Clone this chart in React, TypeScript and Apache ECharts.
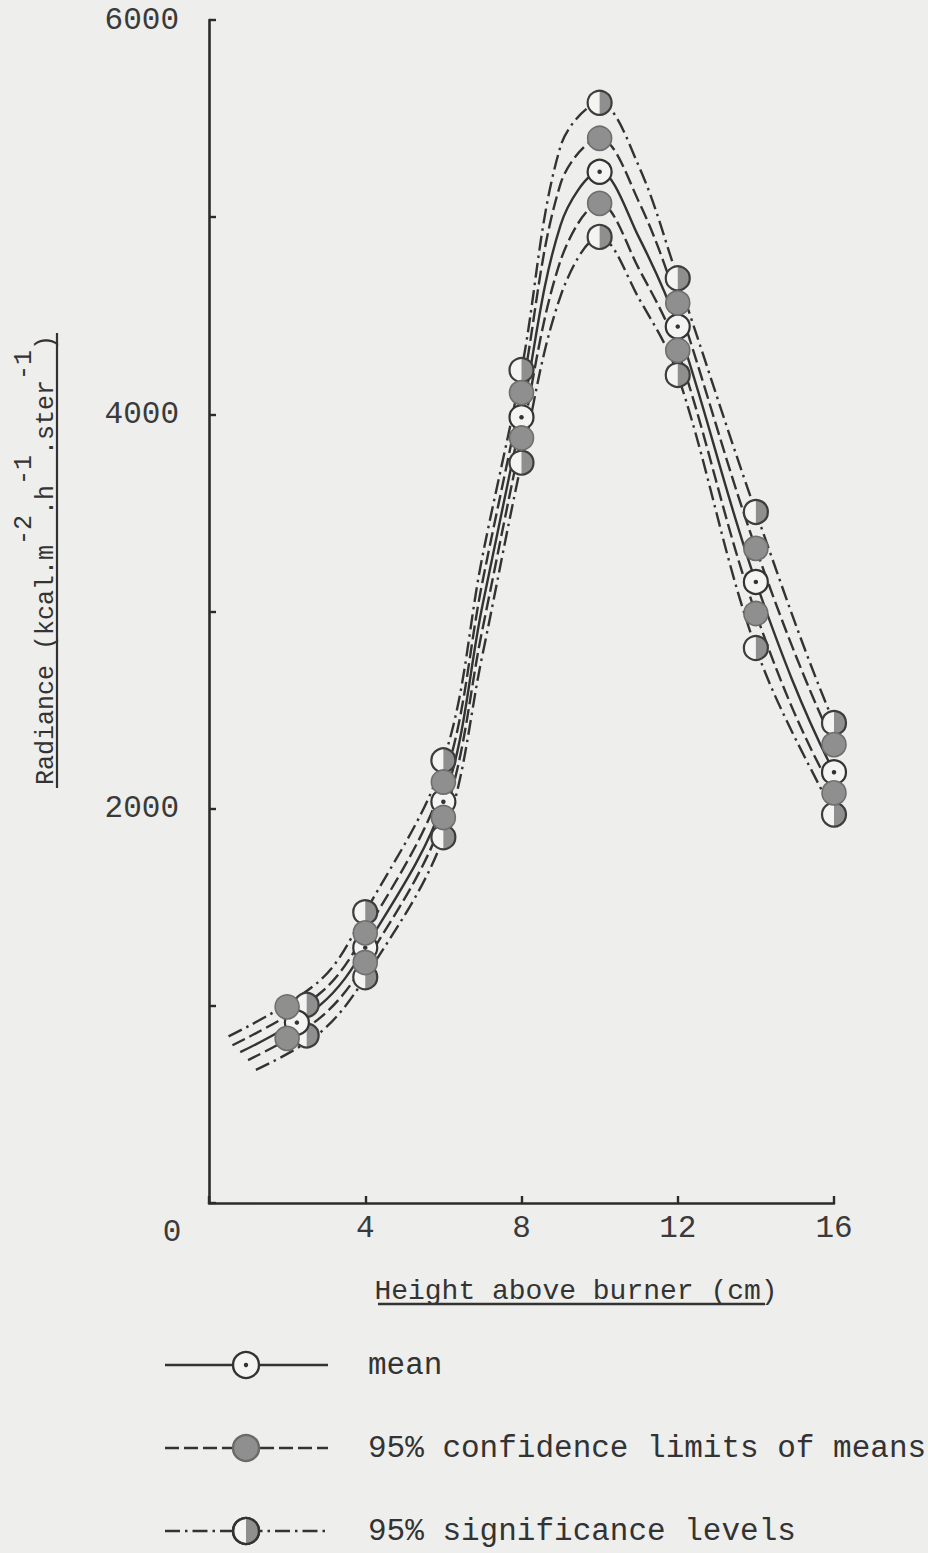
import React, { useEffect, useRef } from "react";
import * as echarts from "echarts";

// Heights above the burner (cm) at which the markers sit
const meanX = [2.25, 4, 6, 8, 10, 12, 14, 16];
const confX = [2, 4, 6, 8, 10, 12, 14, 16];
const sigX = [2.5, 4, 6, 8, 10, 12, 14, 16];

// Radiance values (kcal.m-2.h-1.ster-1) at the markers
const meanValues = [915, 1295, 2035, 3985, 5230, 4445, 3150, 2185];
const confUpper = [995, 1370, 2135, 4110, 5400, 4565, 3320, 2325];
const confLower = [835, 1220, 1955, 3880, 5070, 4325, 2990, 2080];
const sigUpper = [1005, 1475, 2245, 4225, 5580, 4690, 3505, 2435];
const sigLower = [850, 1145, 1855, 3755, 4900, 4200, 2815, 1970];

// Fitted curves, [height, radiance]
const meanCurve = [[0.8, 765], [2.85, 1005], [4, 1295], [6, 2035], [7, 3030], [8, 3985], [9, 4960], [10, 5230], [11, 4900], [12, 4445], [14, 3150], [16, 2185], [17.2, 1905]];
const confUpperCurve = [[0.6, 800], [2.85, 1065], [4, 1370], [6, 2135], [7, 3150], [8, 4110], [9, 5170], [10, 5400], [11, 5080], [12, 4565], [14, 3320], [16, 2325], [17.2, 1950]];
const confLowerCurve = [[1.0, 725], [2.85, 940], [4, 1220], [6, 1955], [7, 2910], [8, 3880], [9, 4780], [10, 5070], [11, 4740], [12, 4325], [14, 2990], [16, 2080], [17.2, 1860]];
const sigUpperCurve = [[0.5, 845], [2.85, 1130], [4, 1475], [6, 2245], [7, 3280], [8, 4225], [9, 5360], [10, 5580], [11, 5260], [12, 4690], [14, 3505], [16, 2435], [17.2, 1990]];
const sigLowerCurve = [[1.2, 675], [2.85, 865], [4, 1145], [6, 1855], [7, 2780], [8, 3755], [9, 4600], [10, 4900], [11, 4590], [12, 4200], [14, 2815], [16, 1970], [17.0, 1615]];

const xTicks = [0, 4, 8, 12, 16];
const yLabelled = [2000, 4000, 6000];
const legendLabels = ["mean", "95% confidence limits of means", "95% significance levels"];

const FONT = "'Liberation Mono', 'DejaVu Sans Mono', monospace";
const INK = "#333333";
const PAPER = "#eeeeec";
const GREY = "#8f8f8f";
const DASH = [14, 5];
const DASH_DOT = [15, 5, 2.5, 5];
const HALF_DISC = "path://M0,0 C5.52,0 10,4.48 10,10 C10,15.52 5.52,20 0,20 Z";
const MS = 24;

const pts = (xs: number[], ys: number[]) => xs.map((x, i) => [x, ys[i]]);

export default function App() {
  const ref = useRef<HTMLDivElement>(null);

  useEffect(() => {
    if (!ref.current) return;
    const chart = echarts.init(ref.current, null, { renderer: "svg" });

    const curve = (name: string, data: number[][], type: any) => ({
      name,
      type: "line",
      data,
      smooth: 0.35,
      symbol: "none",
      clip: false,
      silent: true,
      z: 2,
      lineStyle: { color: INK, width: 2.4, type },
    });

    const scatter = (name: string, data: number[][], extra: any) => ({
      name,
      type: "scatter",
      data,
      clip: false,
      silent: true,
      ...extra,
    });

    const confPts = [...pts(confX, confUpper), ...pts(confX, confLower)];
    const sigPts = [...pts(sigX, sigUpper), ...pts(sigX, sigLower)];
    const meanPts = pts(meanX, meanValues);

    const legendY = [1365, 1448, 1531];
    const lx0 = 165, lx1 = 328, lm = 246;

    const legendGraphics: any[] = [];
    legendY.forEach((y, i) => {
      legendGraphics.push({
        type: "line",
        shape: { x1: lx0, y1: y, x2: lx1, y2: y },
        style: { stroke: INK, lineWidth: 2.6, lineDash: i === 0 ? null : i === 1 ? DASH : DASH_DOT },
        z: 10,
      });
      legendGraphics.push({
        type: "circle",
        shape: { cx: lm, cy: y, r: 13 },
        style: { fill: i === 1 ? GREY : "#f4f4f2", stroke: i === 1 ? "#6a6a6a" : INK, lineWidth: 2.4 },
        z: 11,
      });
      if (i === 0) {
        legendGraphics.push({ type: "circle", shape: { cx: lm, cy: y, r: 2.2 }, style: { fill: INK }, z: 12 });
      }
      if (i === 2) {
        legendGraphics.push({
          type: "sector",
          shape: { cx: lm, cy: y, r: 13, r0: 0, startAngle: -Math.PI / 2, endAngle: Math.PI / 2, clockwise: true },
          style: { fill: GREY },
          z: 12,
        });
        legendGraphics.push({ type: "circle", shape: { cx: lm, cy: y, r: 13 }, style: { fill: "none", stroke: INK, lineWidth: 2.4 }, z: 13 });
      }
      legendGraphics.push({
        type: "text",
        x: 368,
        y,
        style: { text: legendLabels[i], font: `31px ${FONT}`, fill: INK, align: "left", verticalAlign: "middle" },
        z: 10,
      });
    });

    chart.setOption({
      animation: false,
      backgroundColor: PAPER,
      grid: { left: 209, top: 20, width: 625, height: 1183 },
      xAxis: {
        type: "value",
        min: 0,
        max: 16,
        interval: 4,
        axisLine: { show: true, lineStyle: { color: "#2b2b2b", width: 2.6 } },
        axisTick: { show: true, inside: true, length: 7, lineStyle: { color: "#2b2b2b", width: 2.4 } },
        axisLabel: {
          margin: 10,
          fontFamily: FONT,
          fontSize: 31,
          color: "#3a3a3a",
          formatter: (v: number) => (xTicks.includes(v) && v !== 0 ? String(v) : ""),
        },
        splitLine: { show: false },
      },
      yAxis: {
        type: "value",
        min: 0,
        max: 6000,
        interval: 1000,
        axisLine: { show: true, lineStyle: { color: "#2b2b2b", width: 2.6 } },
        axisTick: { show: true, inside: true, length: 7, lineStyle: { color: "#2b2b2b", width: 2.4 } },
        axisLabel: {
          margin: 30,
          fontFamily: FONT,
          fontSize: 31,
          color: "#3a3a3a",
          formatter: (v: number) => (yLabelled.includes(v) ? String(v) : ""),
        },
        splitLine: { show: false },
      },
      series: [
        curve("95% significance levels", sigUpperCurve, DASH_DOT),
        curve("95% confidence limits of means", confUpperCurve, DASH),
        curve("mean", meanCurve, "solid"),
        curve("95% confidence limits of means", confLowerCurve, DASH),
        curve("95% significance levels", sigLowerCurve, DASH_DOT),
        // significance markers: white disc, grey right half, outline
        scatter("sig-base", sigPts, { symbol: "circle", symbolSize: MS, z: 3, itemStyle: { color: "#f4f4f2", opacity: 1 } }),
        scatter("sig-half", sigPts, { symbol: HALF_DISC, symbolSize: [MS / 2, MS], symbolOffset: [MS / 4, 0], z: 4, itemStyle: { color: GREY, opacity: 1 } }),
        scatter("sig-ring", sigPts, { symbol: "circle", symbolSize: MS, z: 5, itemStyle: { color: "rgba(0,0,0,0)", borderColor: "#3d3d3d", borderWidth: 2.2, opacity: 1 } }),
        // mean markers: open circle with a centre dot
        scatter("mean-ring", meanPts, { symbol: "circle", symbolSize: MS, z: 6, itemStyle: { color: "#f4f4f2", borderColor: INK, borderWidth: 2.2, opacity: 1 } }),
        scatter("mean-dot", meanPts, { symbol: "circle", symbolSize: 4.5, z: 7, itemStyle: { color: INK, opacity: 1 } }),
        // confidence-limit markers: filled grey discs
        scatter("conf", confPts, { symbol: "circle", symbolSize: MS, z: 8, itemStyle: { color: GREY, borderColor: "#6e6e6e", borderWidth: 1.6, opacity: 1 } }),
      ],
      graphic: [
        // origin label typed at the corner
        { type: "text", x: 172, y: 1232, style: { text: "0", font: `31px ${FONT}`, fill: "#3a3a3a", align: "center", verticalAlign: "middle" } },
        // y-axis title with typed superscripts
        {
          type: "text",
          x: 46,
          y: 560,
          rotation: Math.PI / 2,
          style: {
            text: "{a|Radiance (kcal.m}{s|-2}{a|.h}{s|-1}{a|.ster}{s|-1}{a|)}",
            align: "center",
            verticalAlign: "middle",
            rich: {
              a: { fontFamily: FONT, fontSize: 25, lineHeight: 68, fill: INK },
              s: { fontFamily: FONT, fontSize: 25, lineHeight: 20, verticalAlign: "top", fill: INK },
            },
          },
        },
        { type: "line", shape: { x1: 57, y1: 333, x2: 57, y2: 788 }, style: { stroke: INK, lineWidth: 2.2 } },
        // x-axis title
        {
          type: "text",
          x: 576,
          y: 1291,
          style: { text: "Height above burner (cm)", font: `28px ${FONT}`, fill: INK, align: "center", verticalAlign: "middle" },
        },
        { type: "line", shape: { x1: 378, y1: 1304, x2: 765, y2: 1304 }, style: { stroke: INK, lineWidth: 2.6 } },
        ...legendGraphics,
      ],
    });

    return () => chart.dispose();
  }, []);

  return (
    <div
      ref={ref}
      style={{ position: "absolute", left: 0, top: 0, width: 928, height: 1553, background: PAPER }}
    />
  );
}
